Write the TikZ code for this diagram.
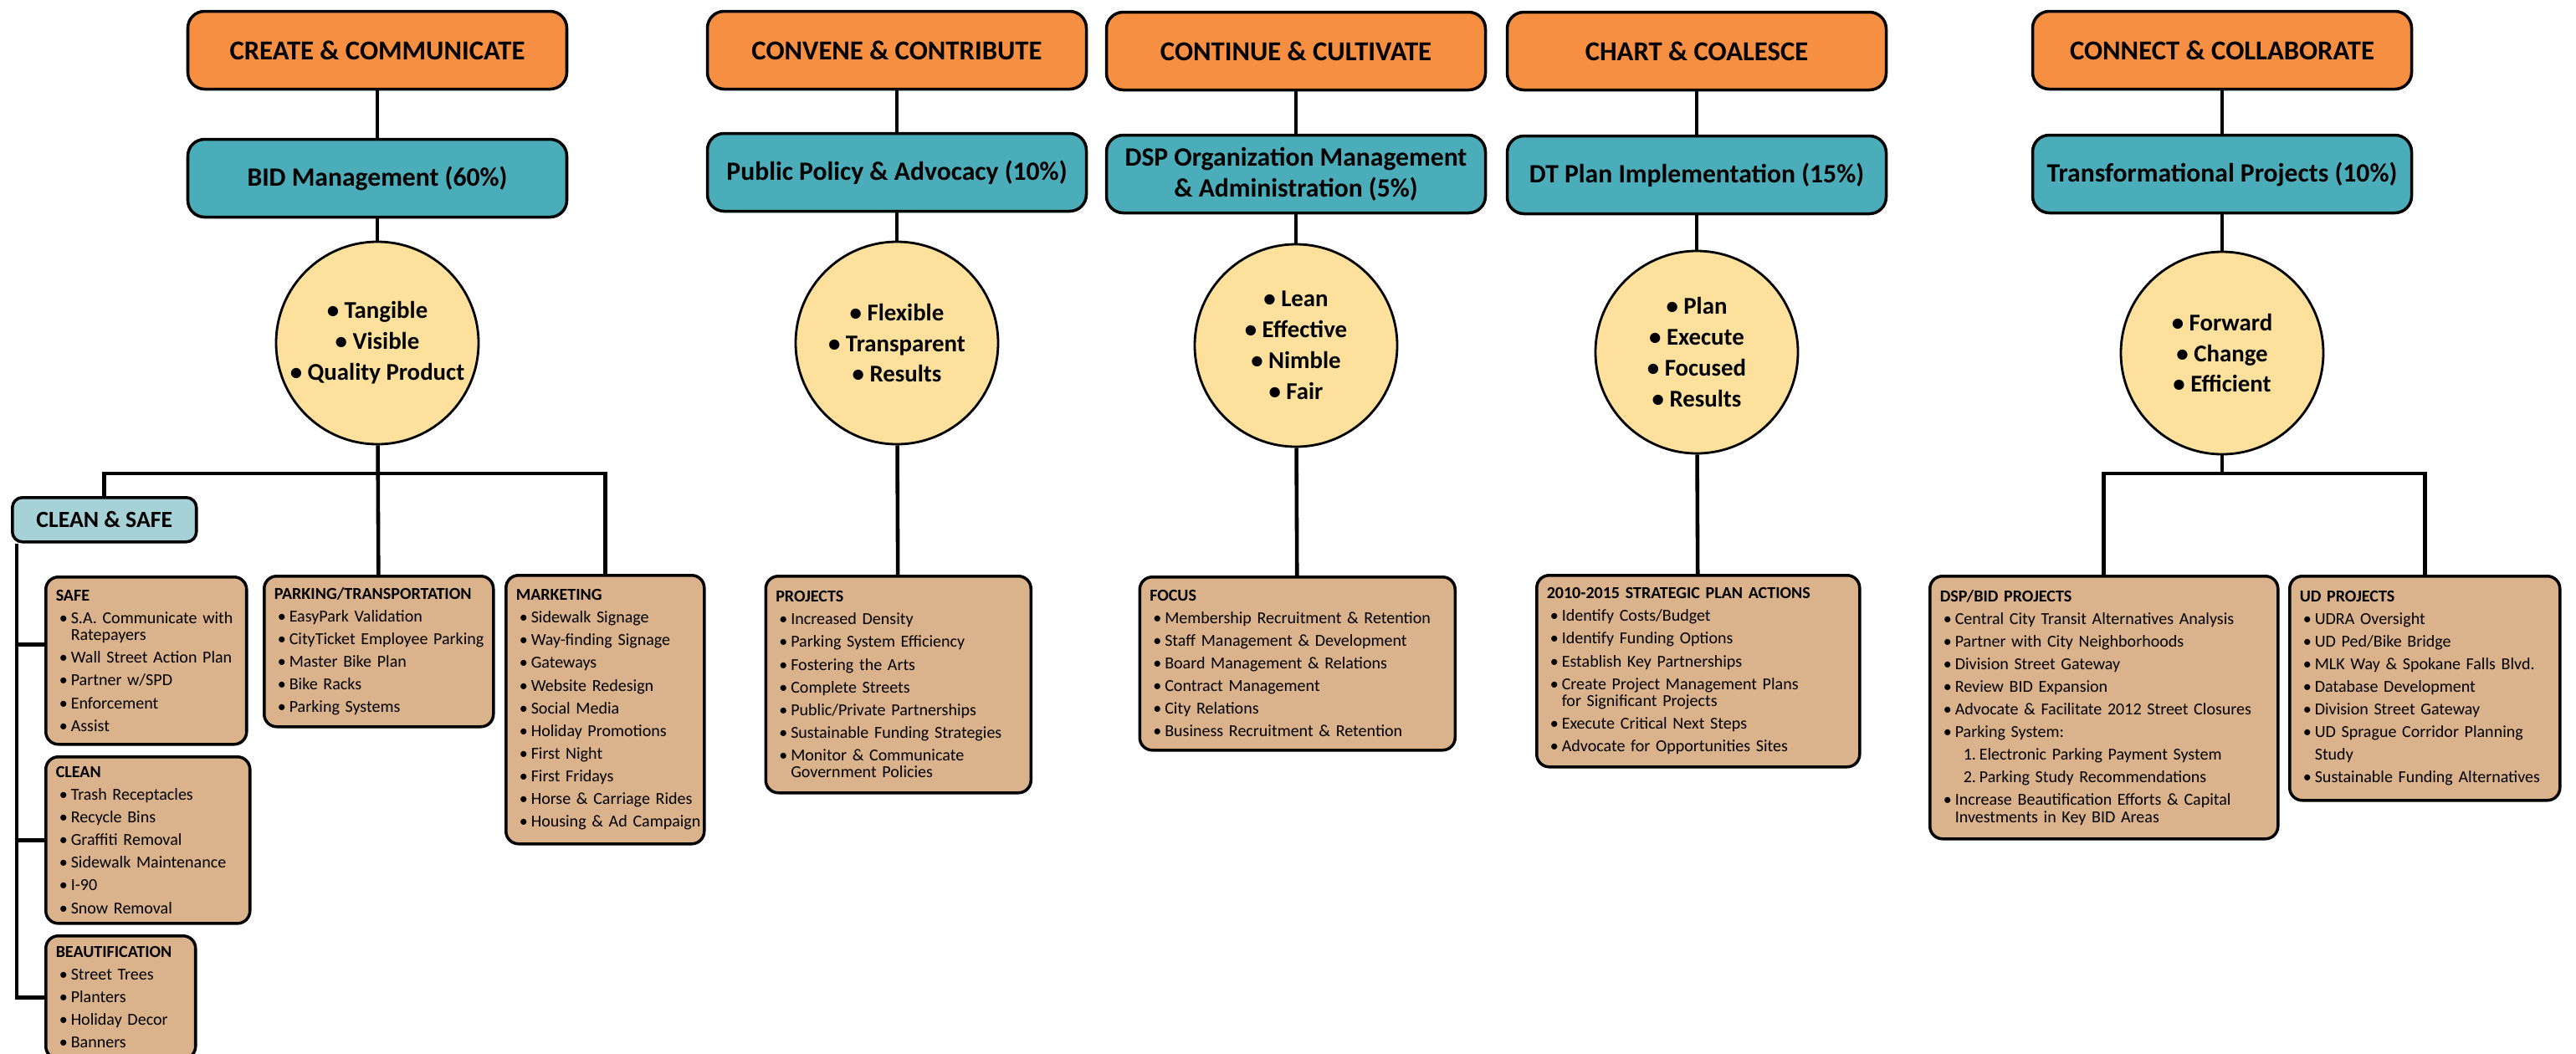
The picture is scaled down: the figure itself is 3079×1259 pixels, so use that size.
\documentclass[tikz,border=0pt]{standalone}
\usepackage{fontspec}
\setmainfont{Carlito}

\definecolor{goalorange}{HTML}{F68F41}
\definecolor{areateal}{HTML}{4BADB9}
\definecolor{valueyellow}{HTML}{FDE09B}
\definecolor{itemtan}{HTML}{DAB28B}
\definecolor{cleanblue}{HTML}{A5D1D7}

% lines of the project boxes
\newcommand{\hd}[1]{\lineskiplimit=-5pt\textbf{#1}}
\newcommand{\bul}[1]{\par\vspace{1.9pt}\noindent\makebox[0.9em][l]{\hspace{0.2em}\textbullet}\mbox{#1}}
\newcommand{\cont}[1]{\newline\hspace*{0.9em}\mbox{#1}}
\newcommand{\sub}[2]{\par\vspace{1.9pt}\noindent\hspace*{1.4em}\makebox[0.95em][l]{#1}\mbox{#2}}

\begin{document}
\begin{tikzpicture}[x=0.1mm,y=-0.1mm,line width=1.3pt,
	goal/.style={draw,line width=1pt,rounded corners=.2cm,fill=goalorange,minimum width=4.53cm,minimum height=.93cm,font=\bfseries\fontsize{9.3}{11}\selectfont},
	area/.style={draw,line width=1pt,rounded corners=.2cm,fill=areateal,minimum width=4.53cm,minimum height=.93cm,align=center,font=\bfseries\fontsize{9}{10.6}\selectfont},
	value/.style={draw,line width=.8pt,circle,fill=valueyellow,minimum size=2.42cm,inner sep=0pt,align=center,font=\bfseries\fontsize{8.2}{10.5}\selectfont},
	items/.style={draw,line width=1pt,rounded corners=.15cm,fill=itemtan,anchor=north west,inner xsep=.12cm,align=left,font=\fontsize{5.7}{5.8}\selectfont},
	clean/.style={draw,line width=1pt,rounded corners=.12cm,fill=cleanblue,anchor=north west,minimum width=2.2cm,minimum height=.53cm,font=\bfseries\fontsize{7.9}{9}\selectfont}]
	\useasboundingbox (0,0) rectangle (3079,1259);
	% goals
		\node[goal] (g1) at (451,60) {CREATE \& COMMUNICATE};
		\node[goal] (g2) at (1072,60) {CONVENE \& CONTRIBUTE};
		\node[goal] (g3) at (1549,61) {CONTINUE \& CULTIVATE};
		\node[goal] (g4) at (2028,61) {CHART \& COALESCE};
		\node[goal] (g5) at (2656,60) {CONNECT \& COLLABORATE};
	% focus areas
		\node[area] (a1) at (451,213) {BID Management (60\%)};
		\node[area] (a2) at (1072,206) {Public Policy \& Advocacy (10\%)};
		\node[area] (a3) at (1549,208) {DSP Organization Management\\\& Administration (5\%)};
		\node[area] (a4) at (2028,209) {DT Plan Implementation (15\%)};
		\node[area] (a5) at (2656,208) {Transformational Projects (10\%)};
	% values
		\node[value] (v1) at (451,410) {\textbullet{} Tangible\\\textbullet{} Visible\\\textbullet{} Quality Product};
		\node[value] (v2) at (1072,410) {\textbullet{} Flexible\\\textbullet{} Transparent\\\textbullet{} Results};
		\node[value] (v3) at (1549,413) {\textbullet{} Lean\\\textbullet{} Effective\\\textbullet{} Nimble\\\textbullet{} Fair};
		\node[value] (v4) at (2028,421) {\textbullet{} Plan\\\textbullet{} Execute\\\textbullet{} Focused\\\textbullet{} Results};
		\node[value] (v5) at (2656,422) {\textbullet{} Forward\\\textbullet{} Change\\\textbullet{} Efficient};
	% clean & safe
		\node[clean] (cs) at (13,593) {CLEAN \& SAFE};
		\node[items,text width=2.16cm,minimum height=2cm] (safe) at (53,688) {\hd{SAFE}
			\bul{S.A. Communicate with}\cont{Ratepayers}
			\bul{Wall Street Action Plan}
			\bul{Partner w/SPD}
			\bul{Enforcement}
			\bul{Assist}\par};
		\node[items,text width=2.2cm,minimum height=1.99cm] (clean) at (53,903) {\hd{CLEAN}
			\bul{Trash Receptacles}
			\bul{Recycle Bins}
			\bul{Graffiti Removal}
			\bul{Sidewalk Maintenance}
			\bul{I-90}
			\bul{Snow Removal}\par};
		\node[items,text width=1.55cm,minimum height=1.47cm] (beaut) at (53,1117) {\hd{BEAUTIFICATION}
			\bul{Street Trees}
			\bul{Planters}
			\bul{Holiday Decor}
			\bul{Banners}\par};
	% projects
		\node[items,text width=2.5cm,minimum height=1.8cm] (park) at (314,687) {\hd{PARKING/TRANSPORTATION}
			\bul{EasyPark Validation}
			\bul{CityTicket Employee Parking}
			\bul{Master Bike Plan}
			\bul{Bike Racks}
			\bul{Parking Systems}\par};
		\node[items,text width=2.13cm,minimum height=3.21cm] (mkt) at (603,686) {\hd{MARKETING}
			\bul{Sidewalk Signage}
			\bul{Way-finding Signage}
			\bul{Gateways}
			\bul{Website Redesign}
			\bul{Social Media}
			\bul{Holiday Promotions}
			\bul{First Night}
			\bul{First Fridays}
			\bul{Horse \& Carriage Rides}
			\bul{Housing \& Ad Campaign}\par};
		\node[items,text width=2.93cm,minimum height=2.59cm] (proj) at (913.5,687) {\hd{PROJECTS}
			\bul{Increased Density}
			\bul{Parking System Efficiency}
			\bul{Fostering the Arts}
			\bul{Complete Streets}
			\bul{Public/Private Partnerships}
			\bul{Sustainable Funding Strategies}
			\bul{Monitor \& Communicate}\cont{Government Policies}\par};
		\node[items,text width=3.53cm,minimum height=2.07cm] (focus) at (1360.5,688) {\hd{FOCUS}
			\bul{Membership Recruitment \& Retention}
			\bul{Staff Management \& Development}
			\bul{Board Management \& Relations}
			\bul{Contract Management}
			\bul{City Relations}
			\bul{Business Recruitment \& Retention}\par};
		\node[items,text width=3.62cm,minimum height=2.29cm] (strat) at (1835,686) {\hd{2010-2015 STRATEGIC PLAN ACTIONS}
			\bul{Identify Costs/Budget}
			\bul{Identify Funding Options}
			\bul{Establish Key Partnerships}
			\bul{Create Project Management Plans}\cont{for Significant Projects}
			\bul{Execute Critical Next Steps}
			\bul{Advocate for Opportunities Sites}\par};
		\node[items,text width=3.92cm,minimum height=3.14cm] (dsp) at (2305,687) {\hd{DSP/BID PROJECTS}
			\bul{Central City Transit Alternatives Analysis}
			\bul{Partner with City Neighborhoods}
			\bul{Division Street Gateway}
			\bul{Review BID Expansion}
			\bul{Advocate \& Facilitate 2012 Street Closures}
			\bul{Parking System:}
			\sub{1.}{Electronic Parking Payment System}
			\sub{2.}{Parking Study Recommendations}
			\bul{Increase Beautification Efforts \& Capital}\cont{Investments in Key BID Areas}\par};
		\node[items,text width=2.99cm,minimum height=2.68cm] (ud) at (2735,687) {\hd{UD PROJECTS}
			\bul{UDRA Oversight}
			\bul{UD Ped/Bike Bridge}
			\bul{MLK Way \& Spokane Falls Blvd.}
			\bul{Database Development}
			\bul{Division Street Gateway}
			\bul{UD Sprague Corridor Planning}
			\par\vspace{1.9pt}\noindent\hspace*{0.9em}Study
			\bul{Sustainable Funding Alternatives}\par};
	% connectors
		\foreach \i in {1,...,5} {
			\draw (g\i) -- (a\i);
			\draw (a\i) -- (v\i);
		}
		\coordinate (bus1) at (451,566);
		\draw (v1) -- (park);
		\draw (cs.north) |- (bus1) -| (mkt.north);
		\coordinate (rail) at ([xshift=.07cm]cs.south west);
		\draw (rail) |- ([yshift=.19cm]safe.west);
		\draw (rail) |- (clean.west);
		\draw (rail) |- (beaut.west);
		\draw (v2) -- (proj);
		\draw (v3) -- (focus);
		\draw (v4) -- (strat);
		\coordinate (bus5) at (2656,566);
		\draw (v5) -- (bus5);
		\draw (dsp.north) |- (bus5) -| (ud.north);
\end{tikzpicture}
\end{document}
